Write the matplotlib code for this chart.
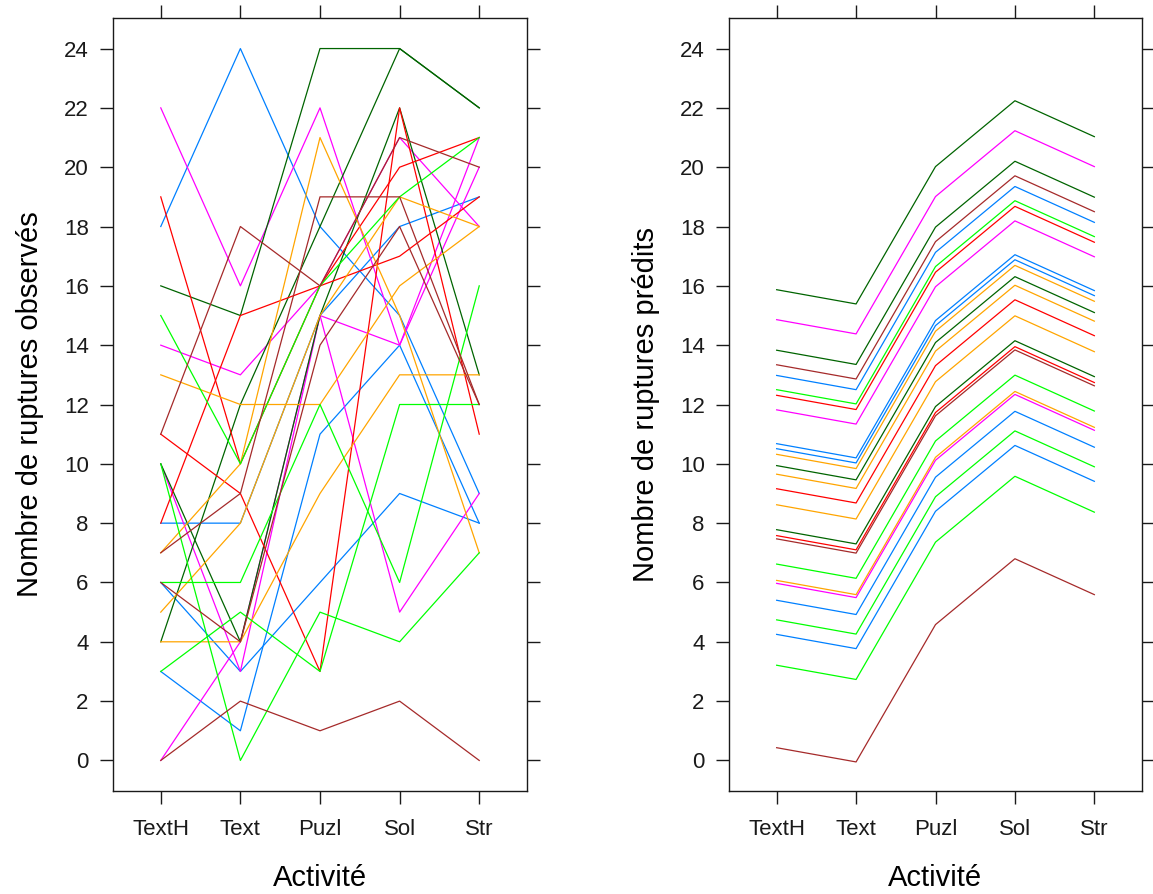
import matplotlib
matplotlib.use('Agg')
import matplotlib.pyplot as plt

plt.rcParams['font.family'] = ['Liberation Sans', 'DejaVu Sans']

# lattice default superpose colours
BLUE, MAG, DGREEN, RED, ORANGE, LIME, BROWN = ('#0080ff', '#ff00ff', '#006400', '#ff0000',
                                              '#ffa500', '#00ff00', '#a52a2a')

activites = ['TextH', 'Text', 'Puzl', 'Sol', 'Str']

# observed counts, one row per subject
obs_colors = [BLUE, BLUE, BLUE, BLUE,
              MAG, MAG, MAG, MAG,
              DGREEN, DGREEN, DGREEN,
              RED, RED, RED,
              ORANGE, ORANGE, ORANGE, ORANGE,
              LIME, LIME, LIME, LIME,
              BROWN, BROWN, BROWN, BROWN]
obs_values = [
    [18, 24, 18, 15, 9],
    [8, 8, 15, 18, 19],
    [6, 3, 6, 9, 8],
    [3, 1, 11, 14, 8],
    [22, 16, 22, 14, 20],
    [14, 13, 16, 21, 18],
    [10, 3, 15, 5, 9],
    [0, 4, 15, 14, 21],
    [16, 15, 24, 24, 22],
    [10, 4, 15, 22, 13],
    [4, 12, 18, 24, 22],
    [19, 10, 16, 20, 21],
    [11, 9, 3, 22, 11],
    [8, 15, 16, 17, 19],
    [13, 12, 12, 16, 18],
    [7, 10, 21, 15, 7],
    [4, 4, 9, 13, 13],
    [5, 8, 15, 19, 18],
    [15, 10, 16, 19, 21],
    [10, 0, 5, 4, 7],
    [6, 6, 12, 6, 16],
    [3, 5, 3, 12, 12],
    [11, 18, 16, 21, 20],
    [0, 2, 1, 2, 0],
    [7, 9, 19, 19, 12],
    [6, 4, 14, 18, 12],
]

# predicted counts, one row per subject
pred_colors = [DGREEN, MAG, DGREEN, BROWN, BLUE, LIME, RED, MAG, BLUE, BLUE, ORANGE, DGREEN, ORANGE,
               RED, ORANGE, DGREEN, RED, BROWN, LIME, ORANGE, MAG, BLUE, LIME, BLUE, LIME, BROWN]
pred_values = [
    [15.87, 15.39, 20.02, 22.24, 21.03],
    [14.86, 14.38, 19.01, 21.23, 20.02],
    [13.83, 13.35, 17.98, 20.20, 18.99],
    [13.34, 12.86, 17.49, 19.71, 18.50],
    [12.98, 12.50, 17.13, 19.35, 18.14],
    [12.50, 12.02, 16.65, 18.87, 17.66],
    [12.31, 11.83, 16.46, 18.68, 17.47],
    [11.82, 11.34, 15.97, 18.19, 16.98],
    [10.68, 10.20, 14.83, 17.05, 15.84],
    [10.51, 10.03, 14.66, 16.88, 15.67],
    [10.32, 9.84, 14.47, 16.69, 15.48],
    [9.94, 9.46, 14.09, 16.31, 15.10],
    [9.65, 9.17, 13.80, 16.02, 14.81],
    [9.16, 8.68, 13.31, 15.53, 14.32],
    [8.62, 8.14, 12.77, 14.99, 13.78],
    [7.78, 7.30, 11.93, 14.15, 12.94],
    [7.58, 7.10, 11.73, 13.95, 12.74],
    [7.47, 6.99, 11.62, 13.84, 12.63],
    [6.62, 6.14, 10.77, 12.99, 11.78],
    [6.07, 5.59, 10.22, 12.44, 11.23],
    [5.97, 5.49, 10.12, 12.34, 11.13],
    [5.40, 4.92, 9.55, 11.77, 10.56],
    [4.74, 4.26, 8.89, 11.11, 9.90],
    [4.25, 3.77, 8.40, 10.62, 9.41],
    [3.21, 2.73, 7.36, 9.58, 8.37],
    [0.43, -0.05, 4.58, 6.80, 5.59],
]

x = list(range(1, len(activites) + 1))

fig = plt.figure(figsize=(11.53, 8.94), dpi=100)
ax1 = fig.add_axes([113 / 1153, 1 - 791 / 894, 414 / 1153, 773 / 894])
ax2 = fig.add_axes([729 / 1153, 1 - 791 / 894, 413 / 1153, 773 / 894])

panels = [(ax1, obs_values, obs_colors, 'Nombre de ruptures observés'),
          (ax2, pred_values, pred_colors, 'Nombre de ruptures prédits')]

for ax, values, colors, ylab in panels:
    for vals, col in zip(values, colors):
        ax.plot(x, vals, color=col, lw=0.9)
    ax.set_xlim(0.4, 5.6)
    ax.set_ylim(-1.03, 25.03)
    ax.set_xticks(x)
    ax.set_xticklabels(activites)
    ax.set_yticks(range(0, 25, 2))
    ax.tick_params(direction='out', length=9.5, width=1.0, top=True, right=True,
                   labeltop=False, labelright=False, labelsize=16, colors='#1a1a1a')
    ax.tick_params(axis='x', pad=11)
    ax.tick_params(axis='y', pad=8)
    for s in ax.spines.values():
        s.set_linewidth(1.0)
        s.set_color('#1a1a1a')
    ax.set_xlabel('Activité', fontsize=21, labelpad=17)
    ax.set_ylabel(ylab, fontsize=21, labelpad=14)

fig.savefig('out.png', dpi=100)
